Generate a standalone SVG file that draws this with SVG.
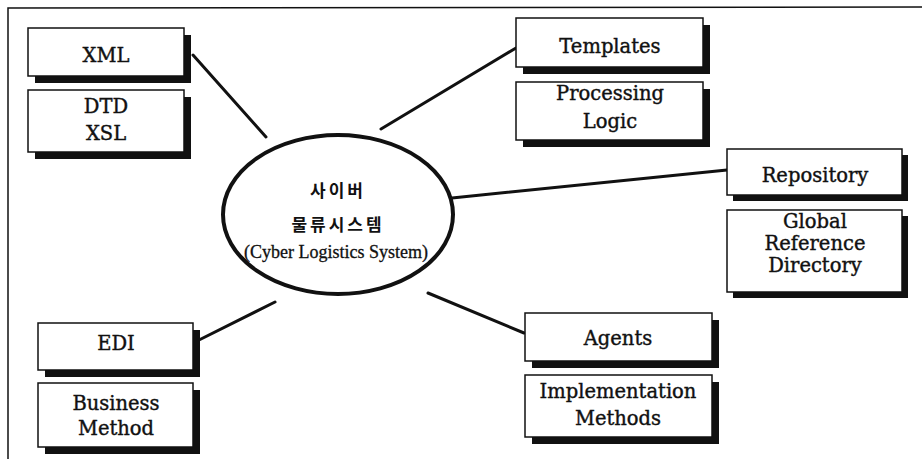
<svg xmlns="http://www.w3.org/2000/svg" width="922" height="459" viewBox="0 0 922 459">
  <style>
    .shadow { fill: #111; }
    .box { fill: #fff; stroke: #111; stroke-width: 1.5; }
    .lbl { font-family: "DejaVu Serif", "Liberation Serif", serif; font-size: 19.5px; fill: #111; stroke: #111; stroke-width: 0.4; text-anchor: middle; }
    .conn { stroke: #111; stroke-width: 3; fill: none; stroke-linecap: round; }
    .frame { stroke: #111; stroke-width: 1.5; fill: none; }
    .ko { font-family: "Noto Sans CJK KR", sans-serif; font-size: 17px; font-weight: bold; letter-spacing: 3px; fill: #111; text-anchor: middle; }
  </style>

  <rect width="922" height="459" fill="#fff"/>

  <!-- open frame: left and top edges only -->
  <path class="frame" d="M8 459 L8 8 L922 7"/>

  <!-- spokes from the central system -->
  <g id="connectors">
    <line class="conn" x1="193" y1="55" x2="266" y2="137"/>
    <line class="conn" x1="516" y1="48" x2="381" y2="129"/>
    <line class="conn" x1="452" y1="198" x2="727" y2="170"/>
    <line class="conn" x1="275" y1="302" x2="193" y2="343"/>
    <line class="conn" x1="428" y1="293" x2="524" y2="333"/>
  </g>

  <g id="center">
    <ellipse cx="338" cy="214.5" rx="115" ry="79.5" fill="#fff" stroke="#111" stroke-width="4"/>
    <text class="ko" x="338" y="197">사이버</text>
    <text class="ko" x="338" y="231">물류시스템</text>
    <text x="336" y="258" font-family="'Liberation Serif', serif" font-size="18" text-anchor="middle" fill="#111" stroke="#111" stroke-width="0.3">(Cyber Logistics System)</text>
  </g>

  <g id="xml">
    <rect class="shadow" x="35" y="35" width="156" height="48"/>
    <rect class="box" x="28" y="28" width="156" height="48"/>
    <text class="lbl" x="106" y="62">XML</text>
  </g>

  <g id="dtd-xsl">
    <rect class="shadow" x="35" y="97" width="156" height="62"/>
    <rect class="box" x="28" y="90" width="156" height="62"/>
    <text class="lbl" x="106" y="113">DTD</text>
    <text class="lbl" x="106" y="140">XSL</text>
  </g>

  <g id="templates">
    <rect class="shadow" x="523" y="25" width="187" height="49"/>
    <rect class="box" x="516" y="18" width="187" height="49"/>
    <text class="lbl" x="610" y="53">Templates</text>
  </g>

  <g id="processing-logic">
    <rect class="shadow" x="523" y="89" width="187" height="58"/>
    <rect class="box" x="516" y="82" width="187" height="58"/>
    <text class="lbl" x="610" y="100">Processing</text>
    <text class="lbl" x="610" y="128">Logic</text>
  </g>

  <g id="repository">
    <rect class="shadow" x="733" y="155" width="175" height="46"/>
    <rect class="box" x="727" y="149" width="175" height="46"/>
    <text class="lbl" x="815" y="182">Repository</text>
  </g>

  <g id="global-reference-directory">
    <rect class="shadow" x="733" y="216" width="175" height="82"/>
    <rect class="box" x="727" y="210" width="175" height="82"/>
    <text class="lbl" x="815" y="228">Global</text>
    <text class="lbl" x="815" y="250">Reference</text>
    <text class="lbl" x="815" y="272">Directory</text>
  </g>

  <g id="edi">
    <rect class="shadow" x="45" y="330" width="155" height="47"/>
    <rect class="box" x="38" y="323" width="155" height="47"/>
    <text class="lbl" x="116" y="350">EDI</text>
  </g>

  <g id="business-method">
    <rect class="shadow" x="45" y="390" width="155" height="64"/>
    <rect class="box" x="38" y="383" width="155" height="64"/>
    <text class="lbl" x="116" y="410">Business</text>
    <text class="lbl" x="116" y="435">Method</text>
  </g>

  <g id="agents">
    <rect class="shadow" x="532" y="320" width="187" height="48"/>
    <rect class="box" x="525" y="313" width="187" height="48"/>
    <text class="lbl" x="618" y="345">Agents</text>
  </g>

  <g id="implementation-methods">
    <rect class="shadow" x="532" y="382" width="187" height="62"/>
    <rect class="box" x="525" y="375" width="187" height="62"/>
    <text class="lbl" x="618" y="398">Implementation</text>
    <text class="lbl" x="618" y="425">Methods</text>
  </g>
</svg>
